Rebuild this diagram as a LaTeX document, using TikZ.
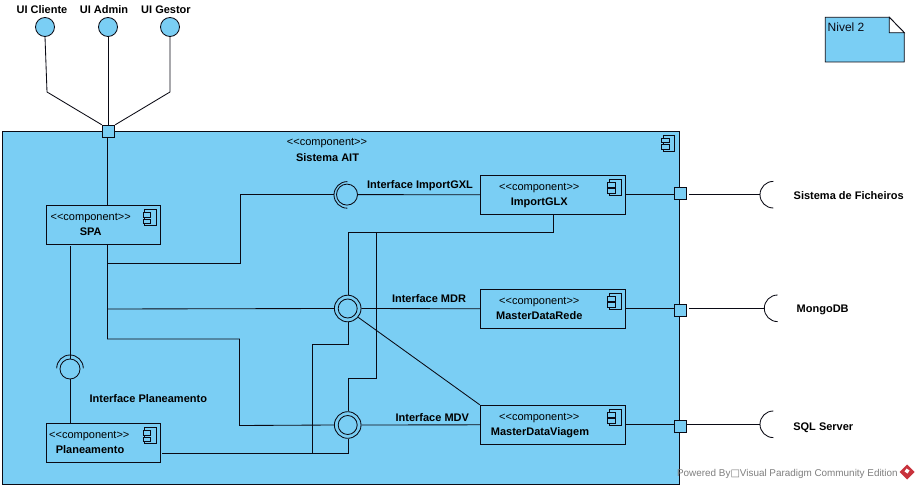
\documentclass[tikz,border=0pt]{standalone}
\usepackage{fontspec}
\setmainfont{Liberation Sans}
\newfontfamily\symfont{DejaVu Sans}
\usetikzlibrary{calc}
\definecolor{vpblue}{HTML}{7ACEF4}
\definecolor{vpline}{HTML}{0A0A14}
\definecolor{vpgray}{HTML}{7F7F7F}
\definecolor{vpred}{HTML}{C8323C}
\newcommand{\stereo}{<{}<component>{}>}
\tikzset{
  every path/.style={line width=0.85pt},
  comp/.style={rectangle,draw=vpline,fill=vpblue,inner sep=0pt,minimum width=114pt,minimum height=39pt},
  compwide/.style={comp,minimum width=145pt},
  port/.style={rectangle,draw=vpline,fill=vpblue,inner sep=0pt,minimum width=12.5pt,minimum height=12.5pt},
  ball/.style={circle,draw=vpline,fill=vpblue,inner sep=0pt,minimum size=19pt},
  lolli/.style={circle,draw=vpline,fill=vpblue,inner sep=0pt,minimum size=20pt},
  ring/.style={circle,draw=vpline,inner sep=0pt,minimum size=26.6pt},
  ringin/.style={circle,draw=vpline,inner sep=0pt,minimum size=19pt},
  txt/.style={inner sep=0pt,text height=8pt,text depth=0pt,font=\fontsize{11pt}{13pt}\selectfont,text=black},
  lab/.style={txt,font=\fontsize{11pt}{13pt}\selectfont\bfseries}
}
\newcommand{\compicon}[1]{%
  \draw[draw=vpline,fill=none] ($(#1.north east)+(-16.5pt,-4.7pt)$) rectangle ($(#1.north east)+(-4.6pt,-20.7pt)$);
  \draw[draw=vpline,fill=vpblue] ($(#1.north east)+(-18pt,-7.5pt)$) rectangle ($(#1.north east)+(-10.3pt,-12.2pt)$);
  \draw[draw=vpline,fill=vpblue] ($(#1.north east)+(-18pt,-14pt)$) rectangle ($(#1.north east)+(-10.3pt,-18.7pt)$);
}
\begin{document}
\begin{tikzpicture}[x=1pt,y=-1pt,color=vpline]
\useasboundingbox (0,0) rectangle (920,489);
\fill[white] (0,0) rectangle (920,489);

% system
\node[rectangle,draw=vpline,fill=vpblue,inner sep=0pt,minimum width=677pt,minimum height=353pt] (sys) at (340.5,307.5) {};
\compicon{sys}
\node[txt] (sysst) at (327,142) {\stereo};
\node[lab] (sysn) at (327.5,157) {Sistema AIT};

% provided interfaces on top
\node[ball] (uic) at (45,27) {};
\node[ball] (uia) at (108,27) {};
\node[ball] (uig) at (170,27) {};
\node[lab] (uicl) at (42,10) {UI Cliente};
\node[lab] (uial) at (104,10) {UI Admin};
\node[lab] (uigl) at (166,10) {UI Gestor};

% components
\node[comp] (spa) at (103.5,225) {};
\node[comp] (plan) at (103.5,443) {};
\node[compwide] (glx) at (552.8,194.8) {};
\node[compwide] (mdr) at (552.8,308.8) {};
\node[compwide] (mdv) at (552.8,424.8) {};
\compicon{spa}
\compicon{plan}
\compicon{glx}
\compicon{mdr}
\compicon{mdv}
\node[txt] (spast) at (90.7,216) {\stereo};
\node[lab] (span) at (90.7,231) {SPA};
\node[txt] (planst) at (89.3,434) {\stereo};
\node[lab] (plann) at (90,449) {Planeamento};
\node[txt] (glxst) at (539.3,186.3) {\stereo};
\node[lab] (glxn) at (539.3,201.3) {ImportGLX};
\node[txt] (mdrst) at (539.3,300.3) {\stereo};
\node[lab] (mdrn) at (539.3,315.3) {MasterDataRede};
\node[txt] (mdvst) at (539.3,416.3) {\stereo};
\node[lab] (mdvn) at (540,431.3) {MasterDataViagem};

% ports
\coordinate (pa) at (47,92);
\coordinate (pg) at (170,92);
\node[port] (ptop) at (108.5,131.5) {};
\node[port] (pglx) at (680.3,193.3) {};
\node[port] (pmdr) at (680.3,310.5) {};
\node[port] (pmdv) at (680.3,426.4) {};

\draw (uic.south) -- (pa) -- (ptop.north west);
\draw (uia.south) -- (ptop.north -| uia);
\draw (uig.south) -- (pg) -- (ptop.north east);
\coordinate (spatop) at (107.5,205.5);
\draw (ptop.south -| spatop) -- (spatop);

% interface nodes
\node[lolli] (iplan) at (70,369) {};
\node[circle,draw=vpline,inner sep=0pt,minimum size=21pt] (iglx) at (347,194.6) {};
\node[ring] (imdr) at (347.7,308.5) {};
\node[ringin] (imdri) at (347.7,308.5) {};
\node[ring] (imdv) at (347.7,425) {};
\node[ringin] (imdvi) at (347.7,425) {};

% sockets
\draw[fill=none] ($(iplan)+(0pt,0.7pt)+(0:13.3pt)$) arc[start angle=0,end angle=180,radius=13.3pt];
\draw[fill=none] ($(iglx)+(0.3pt,-0.3pt)+(90:13.3pt)$) arc[start angle=90,end angle=270,radius=13.3pt];

% SPA - Planeamento
\coordinate (spalow) at (70.5,246);
\draw (spalow) -- (iplan.north -| spalow);
\draw (iplan.south -| spalow) -- (plan.north -| spalow);
\node[lab] (iplanl) at (148.3,398.3) {Interface Planeamento};

% SPA trunks
\coordinate (s0) at (107.5,244.5);
\coordinate (s1) at (107.5,263.5);
\coordinate (s2) at (107.5,309);
\coordinate (s3) at (107.5,339);
\coordinate (w1) at (240.5,263.5);
\coordinate (w2) at (240.5,194.7);
\coordinate (w3) at (239.5,339);
\coordinate (w4) at (239.5,425.5);
\coordinate (g0) at (334,194.7);
\draw (s0) -- (s3) -- (w3) -- (w4) -- (imdv.west);
\draw (s1) -- (w1) -- (w2) -- (g0);
\draw (s2) -- (imdr.west);

% interfaces to components
\draw (iglx.east) -- (glx.west);
\draw (imdr.east) -- (mdr.west);
\draw (imdv.east) -- (mdv.west);
\node[lab] (iglxl) at (420,184.3) {Interface ImportGXL};
\node[lab] (imdrl) at (429,298.3) {Interface MDR};
\node[lab] (imdvl) at (432.3,417.3) {Interface MDV};
\draw (imdr.-40) -- (mdv.north west);

% Planeamento to bus
\coordinate (b1) at (162,453.3);
\coordinate (b2) at (312.3,453.3);
\coordinate (b3) at (348.7,453.3);
\coordinate (b4) at (312.3,344.3);
\coordinate (b5) at (348.7,344.3);
\coordinate (b6) at (348.7,232);
\coordinate (b7) at (553.3,232);
\coordinate (b8) at (553.3,215);
\coordinate (c1) at (348.7,378.5);
\coordinate (c2) at (376.7,378.5);
\coordinate (c3) at (376.7,232.7);
\coordinate (c4) at (553.3,232.7);
\draw (b1) -- (b3) -- (imdv.south -| b3);
\draw (b2) -- (b4) -- (b5) -- (imdr.south -| b5);
\draw (imdr.north -| b6) -- (b6) -- (b7) -- (b8);
\draw (imdv.north -| c1) -- (c1) -- (c2) -- (c3) -- (c4) -- (b8);

% component to port
\draw (glx.east) -- (pglx.west |- glx);
\draw (mdr.east) -- (pmdr.west |- mdr);
\draw (mdv.east) -- (pmdv.west |- mdv);

% external sockets
\coordinate (eglx) at (773.3,194.7);
\coordinate (emdr) at (777.6,308.3);
\coordinate (emdv) at (773.3,424.3);
\coordinate (lglx) at (689,194.7);
\coordinate (lmdr) at (689,308.3);
\coordinate (lmdv) at (687,424.3);
\draw (lglx) -- ($(eglx)+(-13.3pt,0pt)$);
\draw (lmdr) -- ($(emdr)+(-13.3pt,0pt)$);
\draw (lmdv) -- ($(emdv)+(-13.3pt,0pt)$);
\draw[fill=none] ($(eglx)+(90:13.3pt)$) arc[start angle=90,end angle=270,radius=13.3pt];
\draw[fill=none] ($(emdr)+(90:13.3pt)$) arc[start angle=90,end angle=270,radius=13.3pt];
\draw[fill=none] ($(emdv)+(90:13.3pt)$) arc[start angle=90,end angle=270,radius=13.3pt];
\node[lab] (eglxl) at (848.7,195) {Sistema de Ficheiros};
\node[lab] (emdrl) at (822.7,308) {MongoDB};
\node[lab] (emdvl) at (823.3,426) {SQL Server};

% note
\coordinate (n1) at (825.3,17.3);
\coordinate (n2) at (889.3,17.3);
\coordinate (n3) at (904.3,32.7);
\coordinate (n4) at (904.3,62);
\coordinate (n5) at (825.3,62);
\coordinate (n6) at (889.3,32.7);
\draw[fill=vpblue] (n1) -- (n2) -- (n3) -- (n4) -- (n5) -- cycle;
\draw[fill=white] (n2) -- (n3) -- (n6) -- cycle;
\node[txt,font=\fontsize{12pt}{14pt}\selectfont,text=vpline] (notet) at (846,28) {Nivel 2};

% watermark
\node[inner sep=0pt,text height=8pt,text depth=0pt,font=\fontsize{9.9pt}{12pt}\selectfont,text=vpgray,anchor=west] (wm) at (676.7,472.7) {Powered By{\symfont\fontsize{10pt}{12pt}\selectfont □}Visual Paradigm Community Edition};
\coordinate (l1) at (907,464.5);
\coordinate (l2) at (914.5,472);
\coordinate (l3) at (907,479.5);
\coordinate (l4) at (899.5,472);
\fill[vpred] (l1) -- (l2) -- (l3) -- (l4) -- cycle;
\fill[white] (906.5,468.5) -- (909.5,470.5) -- (907.5,473.5) -- (904.5,471.5) -- cycle;
\end{tikzpicture}
\end{document}
